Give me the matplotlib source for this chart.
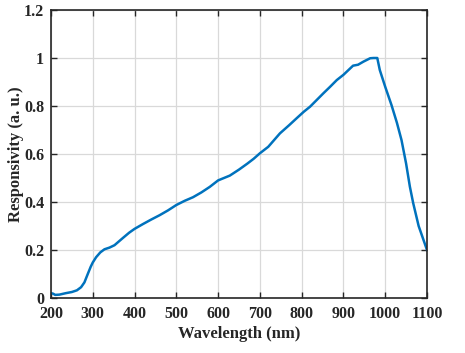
import matplotlib
matplotlib.use("Agg")
import matplotlib.pyplot as plt
import numpy as np

wavelength = [200, 205, 210, 220, 235, 250, 262, 272, 280, 288, 295, 300, 308, 318, 328, 340, 352, 362, 372, 387, 400, 420,
              440, 460, 480, 500, 520, 540, 560, 580, 600, 628, 650, 670, 685, 700, 720, 748, 770, 788,
              805, 820, 836, 852, 868, 884, 900, 923, 935, 948, 964, 972, 981, 987, 1000, 1015, 1028,
              1039, 1050, 1059, 1067, 1080, 1090, 1100]
responsivity = [0.02, 0.018, 0.013, 0.014, 0.02, 0.025, 0.032, 0.045, 0.065, 0.1, 0.13, 0.148, 0.17, 0.19, 0.203, 0.21, 0.22, 0.235, 0.25, 0.272, 0.288, 0.308,
                0.327, 0.345, 0.365, 0.3875, 0.405, 0.42, 0.44, 0.463, 0.49, 0.51, 0.535, 0.56, 0.58, 0.603, 0.63, 0.686, 0.72, 0.749,
                0.776, 0.797, 0.825, 0.853, 0.88, 0.908, 0.93, 0.968, 0.972, 0.985, 0.999, 1.0, 1.0, 0.95, 0.88, 0.804, 0.73,
                0.658, 0.56, 0.464, 0.395, 0.3, 0.25, 0.2]

xticks = [200, 300, 400, 500, 600, 700, 800, 900, 1000, 1100]
yticks = [0, 0.2, 0.4, 0.6, 0.8, 1.0, 1.2]
ytick_labels = ["0", "0.2", "0.4", "0.6", "0.8", "1", "1.2"]

plt.rcParams['font.family'] = ['Liberation Serif', 'DejaVu Serif']
plt.rcParams['font.weight'] = 'bold'

fig = plt.figure(figsize=(4.65, 3.53), dpi=100)
ax = fig.add_axes([51/465, 1 - 298/353, (427-51)/465, (298-10)/353])
ax.plot(wavelength, responsivity, color='#0072BD', linewidth=1.8)
ax.set_xlim(200, 1100)
ax.set_ylim(0, 1.2)
ax.set_xticks(xticks)
ax.set_yticks(yticks)
ax.set_yticklabels(ytick_labels)
ax.grid(True, color='#d9d9d9', linewidth=0.9)
ax.set_axisbelow(True)
ax.tick_params(direction='in', top=True, right=True, length=4, width=1.0, labelsize=11.5, colors='#262626')
ax.tick_params(axis='x', pad=6)
ax.tick_params(axis='y', pad=5)
for lbl in ax.get_xticklabels() + ax.get_yticklabels():
    lbl.set_fontweight('bold')
for s in ax.spines.values():
    s.set_linewidth(1.2)
    s.set_color('#262626')
ax.set_xlabel('Wavelength (nm)', fontsize=12, fontweight='bold', color='#262626')
ax.set_ylabel('Responsivity (a. u.)', fontsize=12, fontweight='bold', color='#262626')
ax.xaxis.set_label_coords(0.5, -(326 - 298) / 288, transform=ax.transAxes)
ax.yaxis.set_label_coords((16 - 51) / 376, 0.5, transform=ax.transAxes)
ax.xaxis.label.set_va('top')
ax.yaxis.label.set_va('center')
fig.savefig('out.png', dpi=100)
